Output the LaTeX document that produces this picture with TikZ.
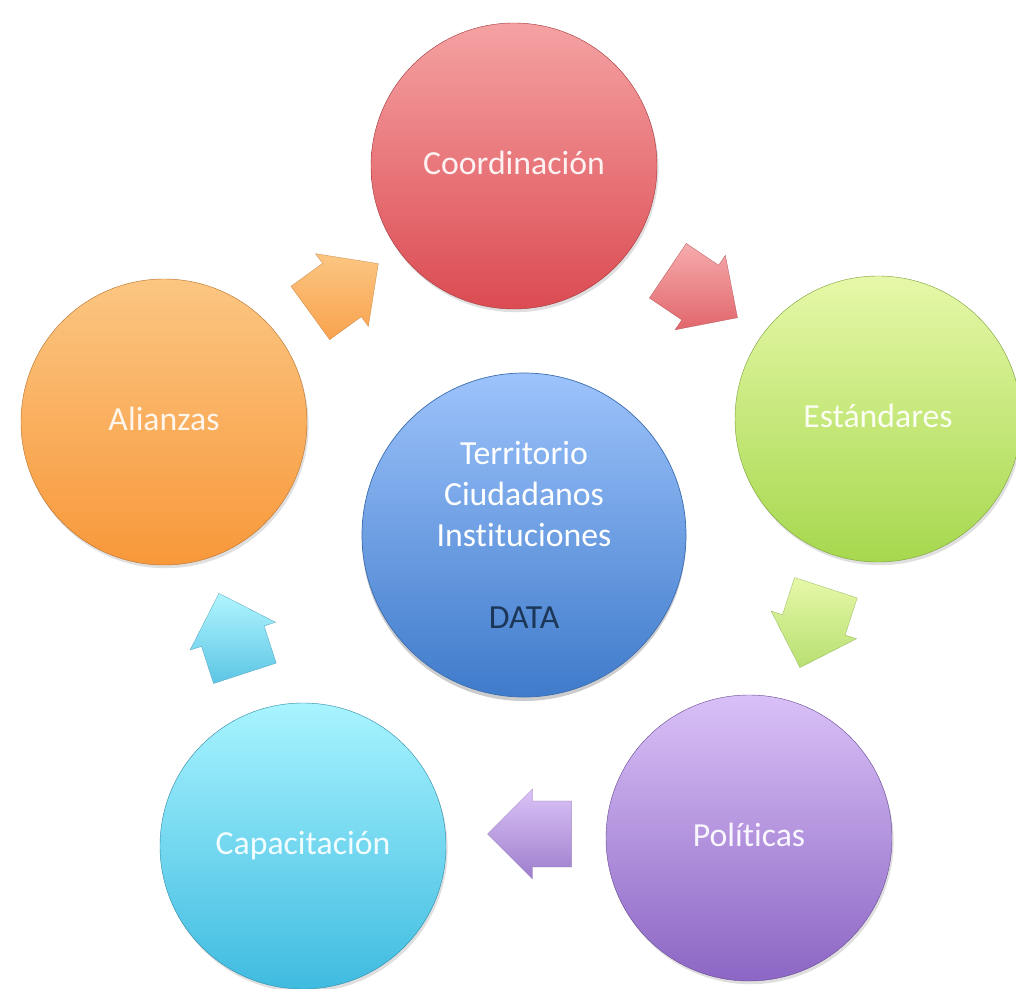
\documentclass[tikz,border=0pt]{standalone}
\usepackage{fontspec}
\setmainfont{Carlito}[Ligatures=NoCommon]
\usetikzlibrary{shapes.arrows,shadows}

\definecolor{redtop}{HTML}{F5A2A3}
\definecolor{redbot}{HTML}{DB4B52}
\definecolor{greentop}{HTML}{E6F8A8}
\definecolor{greenbot}{HTML}{A6D84E}
\definecolor{purptop}{HTML}{D9C0F7}
\definecolor{purpbot}{HTML}{8C66C4}
\definecolor{cyantop}{HTML}{A8F4FF}
\definecolor{cyanbot}{HTML}{3FBBE0}
\definecolor{orantop}{HTML}{FBC682}
\definecolor{oranbot}{HTML}{F8983A}
\definecolor{bluetop}{HTML}{9DC3FB}
\definecolor{bluebot}{HTML}{3F7BCB}
\definecolor{blueline}{HTML}{3C6DB0}
\definecolor{datacol}{HTML}{1C3657}

\tikzset{
	ball/.style 2 args={circle, minimum size=71.5mm, inner sep=0pt,
		top color=#1, bottom color=#2, draw=#2!75!black, line width=0.3pt,
		text=white!85!#1, font=\fontsize{24}{29}\selectfont,
		text height=2.6ex, text depth=0.2ex,
		drop shadow={opacity=0.25, shadow xshift=0.4mm, shadow yshift=-0.8mm}},
	cyclearrow/.style 2 args={single arrow, single arrow head extend=3mm,
		minimum height=21mm, inner xsep=0pt, inner ysep=8.2mm,
		top color=#1, bottom color=#2, draw=#2!80!black, line width=0.2pt},
}

\begin{document}
\begin{tikzpicture}[x=0.25mm, y=-0.25mm]
		%%%%% START %%%%%
		\useasboundingbox (0, 0) rectangle (1016, 988);
		
		\node[cyclearrow={orantop}{oranbot!90!white}, rotate=36] (arrowA) at (331, 298) {};
		\node[cyclearrow={redtop!90!white}{redbot!85!white}, rotate=-34] (arrowB) at (689, 285) {};
		\node[cyclearrow={greentop}{greenbot!80!white}, rotate=-108] (arrowC) at (818, 612) {};
		\node[cyclearrow={purptop!95!white}{purpbot!85!white}, rotate=180] (arrowD) at (546, 834) {};
		\node[cyclearrow={cyantop!90!white}{cyanbot!85!white}, rotate=108] (arrowE) at (237, 649) {};
		
		\node[ball={redtop}{redbot}] (coord) at (514, 166) {Coordinación};
		\node[ball={greentop}{greenbot}] (estan) at (878, 419) {Estándares};
		\node[ball={purptop}{purpbot}] (polit) at (749, 838) {Políticas};
		\node[ball={cyantop}{cyanbot}] (capac) at (303, 846) {Capacitación};
		\node[ball={orantop}{oranbot}] (alian) at (164, 422) {Alianzas};
		
		\node[circle, minimum size=81mm, inner sep=0pt, top color=bluetop, bottom color=bluebot,
			draw=blueline, line width=0.5pt, text=white, align=center,
			font=\fontsize{24}{29.2}\selectfont,
			drop shadow={opacity=0.4, shadow xshift=0mm, shadow yshift=-1mm}] (data) at (524, 535)
			{Territorio\\Ciudadanos\\Instituciones\\ \mbox{}\\ \textcolor{datacol}{DATA}};
		%%%%% END %%%%%
	\end{tikzpicture}
\end{document}
